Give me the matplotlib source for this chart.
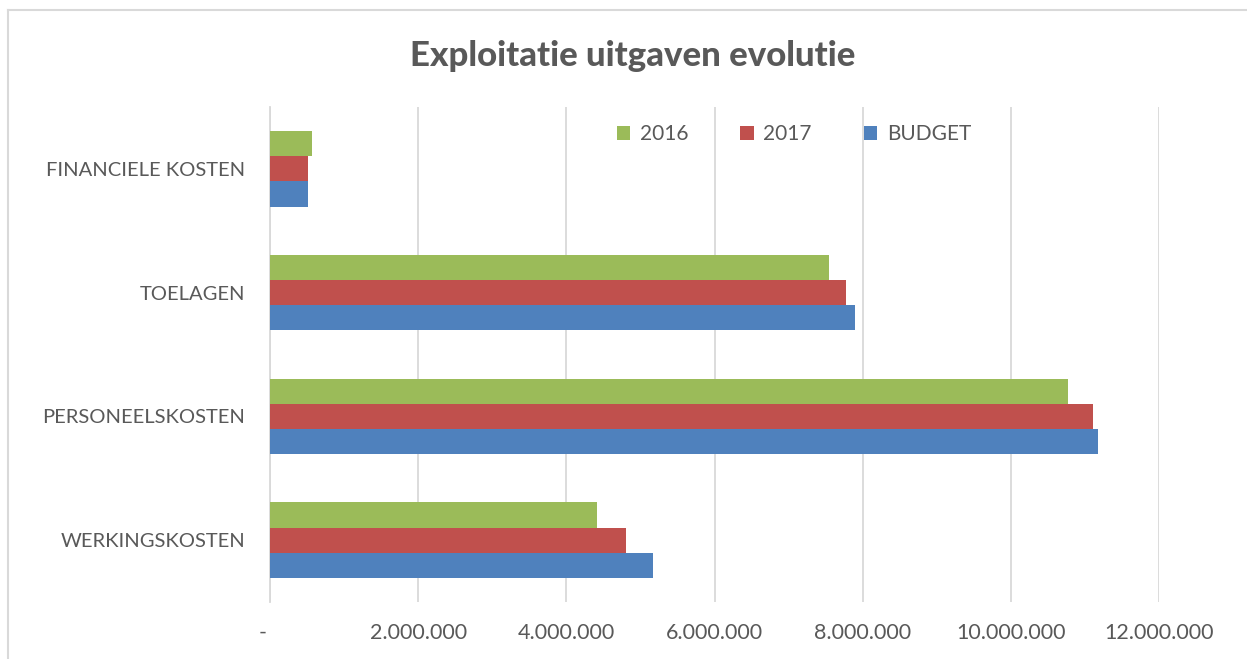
import matplotlib.pyplot as plt
import matplotlib.transforms as mtransforms
from matplotlib.lines import Line2D
import numpy as np

plt.rcParams['font.family'] = ['Lato', 'DejaVu Sans']

# categories from bottom to top, as drawn
categories = ['WERKINGSKOSTEN', 'PERSONEELSKOSTEN', 'TOELAGEN', 'FINANCIELE KOSTEN']
vals_2016 = [4420000, 10770000, 7550000, 562000]
vals_2017 = [4800000, 11110000, 7780000, 516000]
vals_budget = [5170000, 11170000, 7900000, 516000]
xticks = [0, 2000000, 4000000, 6000000, 8000000, 10000000, 12000000]
xtick_labels = ['-', '2.000.000', '4.000.000', '6.000.000', '8.000.000', '10.000.000', '12.000.000']

GREEN = '#9BBB59'
RED = '#C0504D'
BLUE = '#4F81BD'
TEXT = '#595959'
GRID = '#D9D9D9'

W, H = 1247, 659
fig = plt.figure(figsize=(W / 100, H / 100), dpi=100)
ax = fig.add_axes([270 / W, 1 - 602 / H, (1159 - 270) / W, (602 - 107) / H])

y = np.arange(len(categories))
h = 0.203
ax.barh(y + h, vals_2016, height=h, color=GREEN, label='2016', zorder=3)
ax.barh(y, vals_2017, height=h, color=RED, label='2017', zorder=3)
ax.barh(y - h, vals_budget, height=h, color=BLUE, label='BUDGET', zorder=3)

ax.set_xlim(0, 12000000)
ax.set_ylim(-0.5, 3.5)
ax.set_xticks(xticks)
ax.set_xticklabels(xtick_labels, fontsize=15.5, color=TEXT)
ax.set_yticks(y)
ax.set_yticklabels(categories, fontsize=14.5, color=TEXT)
ax.tick_params(axis='both', length=0)
ax.tick_params(axis='x', pad=15)
ax.tick_params(axis='y', pad=18)

# shift the "-" label a bit to the left
lbl0 = ax.get_xticklabels()[0]
lbl0.set_transform(lbl0.get_transform() + mtransforms.ScaledTranslation(-7 / 100, 0, fig.dpi_scale_trans))

ax.grid(axis='x', color=GRID, linewidth=1.3, zorder=0)
for side in ['top', 'right', 'bottom']:
    ax.spines[side].set_visible(False)
ax.spines['left'].set_color(GRID)
ax.spines['left'].set_linewidth(1.3)

leg = ax.legend(loc='center', bbox_to_anchor=((794 - 270) / 889, (602 - 134) / 495),
                ncol=3, frameon=False, fontsize=15, handlelength=0.65, handleheight=0.65,
                handletextpad=0.45, columnspacing=2.5, labelcolor=TEXT)

fig.text(633 / W, 1 - 56 / H, 'Exploitatie uitgaven evolutie', ha='center', va='center',
         fontsize=25, fontweight='black', color=TEXT)

# chart border (cropped)
fig.add_artist(Line2D([7.5 / W, 7.5 / W], [0, 1 - 10 / H], color='#D9D9D9', linewidth=1.5,
                      transform=fig.transFigure))
fig.add_artist(Line2D([7.5 / W, 1], [1 - 10 / H, 1 - 10 / H], color='#D9D9D9', linewidth=1.5,
                      transform=fig.transFigure))

fig.savefig('out.png', dpi=100)
